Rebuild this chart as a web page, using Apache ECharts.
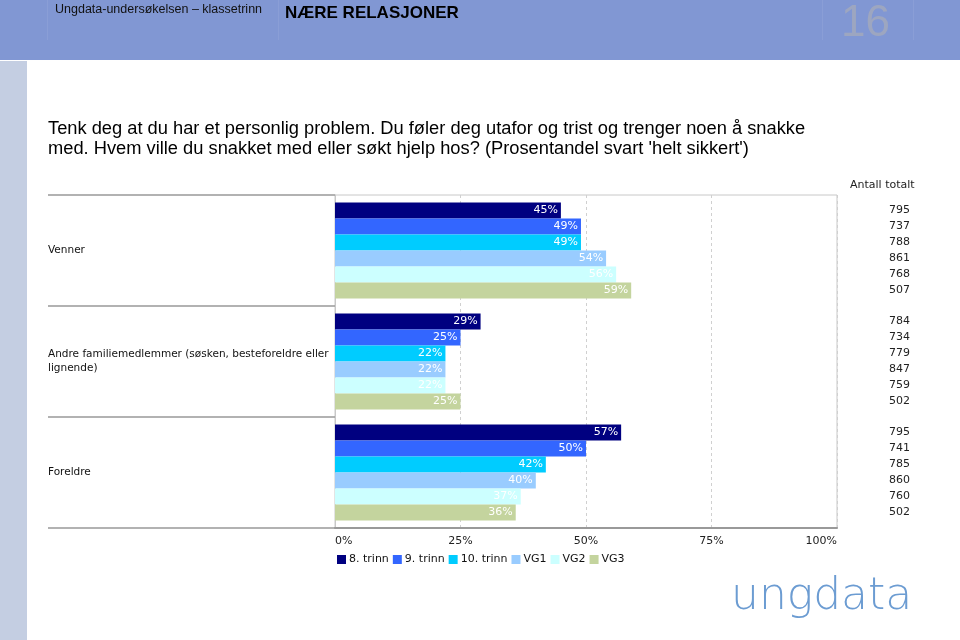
<!DOCTYPE html>
<html>
<head>
<meta charset="utf-8">
<script src="https://cdn.jsdelivr.net/npm/echarts@6/dist/echarts.min.js"></script>
<style>html,body{margin:0;padding:0;background:#fff}#c{width:960px;height:640px}</style>
</head>
<body>
<div id="c"></div>
<script>
var categories = ['Venner', 'Andre familiemedlemmer (søsken, besteforeldre eller\nlignende)', 'Foreldre'];
var seriesNames = ['8. trinn', '9. trinn', '10. trinn', 'VG1', 'VG2', 'VG3'];
var val8 = [45, 29, 57];
var val9 = [49, 25, 50];
var val10 = [49, 22, 42];
var valVG1 = [54, 22, 40];
var valVG2 = [56, 22, 37];
var valVG3 = [59, 25, 36];
var count8 = [795, 784, 795];
var count9 = [737, 734, 741];
var count10 = [788, 779, 785];
var countVG1 = [861, 847, 860];
var countVG2 = [768, 759, 760];
var countVG3 = [507, 502, 502];
var xTicks = [0, 25, 50, 75, 100];

var colors = ['#000080', '#3366FF', '#00CCFF', '#99CCFF', '#CCFFFF', '#C4D49E'];
var values = [val8, val9, val10, valVG1, valVG2, valVG3];
var counts = [count8, count9, count10, countVG1, countVG2, countVG3];
var catGap = 0.135;

var chart = echarts.init(document.getElementById('c'), null, {renderer: 'canvas'});

var barSeries = seriesNames.map(function (n, i) {
  return {
    type: 'bar', name: n, data: values[i],
    barGap: 0, barCategoryGap: (catGap * 100) + '%',
    itemStyle: {color: colors[i]},
    label: {show: true, position: 'insideRight', distance: 3, color: '#fff',
      fontFamily: 'DejaVu Sans', fontSize: 11, formatter: '{c}%'},
    emphasis: {disabled: true}, animation: false
  };
});

var countData = [];
counts.forEach(function (arr, si) {
  arr.forEach(function (c, ci) { countData.push([0, ci, si, c]); });
});

var countSeries = {
  type: 'custom', name: 'counts', coordinateSystem: 'cartesian2d',
  encode: {x: 0, y: 1}, data: countData, silent: true, animation: false,
  renderItem: function (params, api) {
    var ci = api.value(1), si = api.value(2);
    var center = api.coord([xTicks[xTicks.length - 1], ci]);
    var band = api.size([0, 1])[1];
    var bw = band * (1 - catGap) / seriesNames.length;
    var y = center[1] + (si - (seriesNames.length - 1) / 2) * bw;
    return {
      type: 'text', x: center[0] + 73, y: y,
      style: {text: String(api.value(3)), align: 'right', verticalAlign: 'middle',
        font: '11px "DejaVu Sans"', fill: '#222'}
    };
  }
};

var option = {
  animation: false,
  grid: {left: 335, right: 123, top: 195, bottom: 112, show: true, borderColor: '#c8c8c8', borderWidth: 1},
  legend: {
    data: seriesNames, left: 332, top: 549, icon: 'rect', itemWidth: 9, itemHeight: 9, itemGap: 4,
    textStyle: {fontFamily: 'DejaVu Sans', fontSize: 11, color: '#111', padding: [0, 0, 0, -2]},
    selectedMode: false
  },
  xAxis: {
    type: 'value', min: xTicks[0], max: xTicks[xTicks.length - 1], interval: 25,
    axisLine: {show: true, lineStyle: {color: '#999', width: 2}},
    axisTick: {show: false},
    axisLabel: {formatter: '{value}%', fontFamily: 'DejaVu Sans', fontSize: 11, color: '#222', margin: 8,
      alignMinLabel: 'left', alignMaxLabel: 'right'},
    splitLine: {show: true, lineStyle: {color: '#d0d0d0', type: [3, 3]}}
  },
  yAxis: {
    type: 'category', data: categories, inverse: true,
    axisLine: {show: true, lineStyle: {color: '#c8c8c8'}},
    axisTick: {show: true, length: 287, lineStyle: {color: '#999', width: 1.5}},
    axisLabel: {align: 'left', margin: 287, fontFamily: 'DejaVu Sans', fontSize: 10.5, color: '#111', lineHeight: 14}
  },
  series: barSeries.concat([countSeries]),
  graphic: [
    {type: 'rect', left: 0, top: 0, z: -10, shape: {width: 960, height: 60}, style: {fill: '#8197D3'}},
    {type: 'rect', left: 0, top: 61, z: -10, shape: {width: 27, height: 579}, style: {fill: '#C4CEE2'}},
    {type: 'rect', left: 47, top: 0, shape: {width: 1, height: 40}, style: {fill: '#8A9ED6'}},
    {type: 'rect', left: 278, top: 0, shape: {width: 1, height: 40}, style: {fill: '#8A9ED6'}},
    {type: 'rect', left: 822, top: 0, shape: {width: 1, height: 40}, style: {fill: '#8A9ED6'}},
    {type: 'rect', left: 913, top: 0, shape: {width: 1, height: 40}, style: {fill: '#8A9ED6'}},
    {type: 'text', left: 55, top: 3, style: {text: 'Ungdata-undersøkelsen – klassetrinn', font: '12.5px "Liberation Sans Narrow", "Liberation Sans"', fill: '#111'}},
    {type: 'text', left: 285, top: 5, style: {text: 'NÆRE RELASJONER', font: 'bold 17px "Liberation Sans"', fill: '#000'}},
    {type: 'text', left: 841, top: 2, style: {text: '16', font: '44px "Liberation Sans"', fill: '#9DA6C0'}},
    {type: 'text', left: 48, top: 119, style: {text: "Tenk deg at du har et personlig problem. Du føler deg utafor og trist og trenger noen å snakke\nmed. Hvem ville du snakket med eller søkt hjelp hos? (Prosentandel svart 'helt sikkert')", font: '18.3px "Liberation Sans"', fill: '#000', lineHeight: 20}},
    {type: 'text', left: 850, top: 180, style: {text: 'Antall totalt', font: '11px "DejaVu Sans"', fill: '#222'}},
    {type: 'text', left: 731, top: 576, style: {text: 'ungdata', font: '200 44px "DejaVu Sans", "Lato"', fill: '#6C9CD2'}}
  ]
};
chart.setOption(option);
</script>
</body>
</html>
